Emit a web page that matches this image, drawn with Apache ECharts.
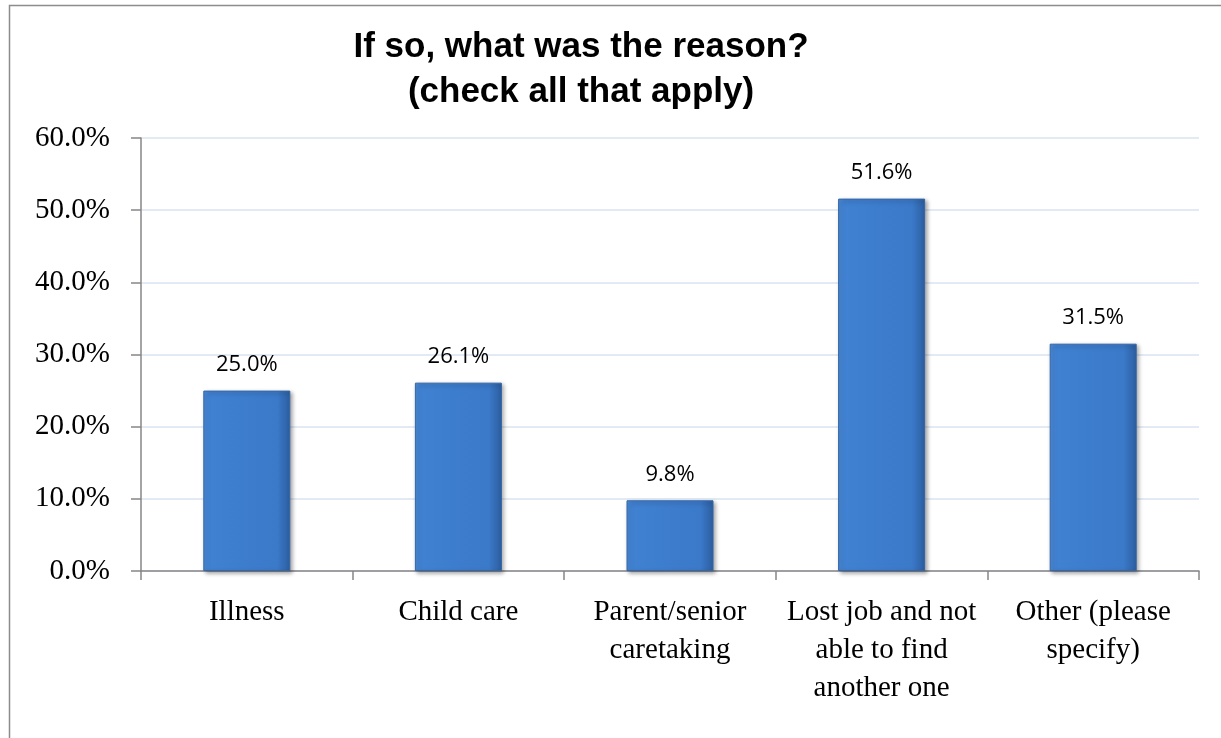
<!DOCTYPE html>
<html>
<head>
<meta charset="utf-8">
<script src="https://cdn.jsdelivr.net/npm/echarts@6/dist/echarts.min.js"></script>
<style>html,body{margin:0;padding:0;background:#fff}#c{width:1221px;height:738px}</style>
</head>
<body>
<div id="c"></div>
<script>
const titleLines = ['If so, what was the reason?', '(check all that apply)'];
const categories = ['Illness', 'Child care', 'Parent/senior\ncaretaking', 'Lost job and not\nable to find\nanother one', 'Other (please\nspecify)'];
const values = [25.0, 26.1, 9.8, 51.6, 31.5];
const yTicks = [0, 10, 20, 30, 40, 50, 60];

const chart = echarts.init(document.getElementById('c'), null, {renderer: 'canvas'});
chart.setOption({
  animation: false,
  backgroundColor: '#fff',
  graphic: [
    {type: 'rect', left: 7, top: 3, shape: {width: 1240, height: 760}, style: {fill: 'none', stroke: '#8c8c8c', lineWidth: 1.5}, z: 0},
    {type: 'text', x: 581, y: 25, style: {text: titleLines.join('\n'), font: 'bold 35px "Liberation Sans", Arial, sans-serif', fill: '#000', textAlign: 'center', lineHeight: 45}}
  ],
  grid: {left: 141, right: 22, top: 138, bottom: 167, containLabel: false},
  xAxis: {
    type: 'category',
    data: categories,
    axisLine: {lineStyle: {color: '#868686', width: 1.5}},
    axisTick: {show: true, length: 9, lineStyle: {color: '#868686', width: 1.5}},
    axisLabel: {color: '#000', fontFamily: '"Liberation Serif", serif', fontSize: 29, lineHeight: 38, margin: 22, interval: 0}
  },
  yAxis: {
    type: 'value',
    min: yTicks[0],
    max: yTicks[yTicks.length - 1],
    interval: 10,
    axisLine: {show: true, lineStyle: {color: '#868686', width: 1.5}},
    axisTick: {show: true, length: 10, lineStyle: {color: '#868686', width: 1.5}},
    axisLabel: {color: '#000', fontFamily: '"Liberation Serif", serif', fontSize: 29, margin: 31, formatter: v => v.toFixed(1) + '%'},
    splitLine: {lineStyle: {color: '#d9e4f1', width: 1.5}}
  },
  series: [{
    type: 'bar',
    data: values,
    barWidth: 87,
    itemStyle: {
      color: new echarts.graphic.LinearGradient(0, 0, 1, 0, [
        {offset: 0, color: '#4b8bd9'},
        {offset: 0.08, color: '#4081d2'},
        {offset: 0.85, color: '#3b79c9'},
        {offset: 1, color: '#2c5e9f'}
      ]),
      borderColor: '#3466a8',
      borderWidth: 1,
      shadowColor: 'rgba(0,0,0,0.35)',
      shadowBlur: 4,
      shadowOffsetX: 2,
      shadowOffsetY: 2
    },
    label: {
      show: true,
      position: 'top',
      distance: 15,
      color: '#000',
      fontFamily: '"Open Sans", sans-serif',
      fontSize: 22,
      formatter: p => p.value.toFixed(1) + '%'
    }
  }]
});
</script>
</body>
</html>
